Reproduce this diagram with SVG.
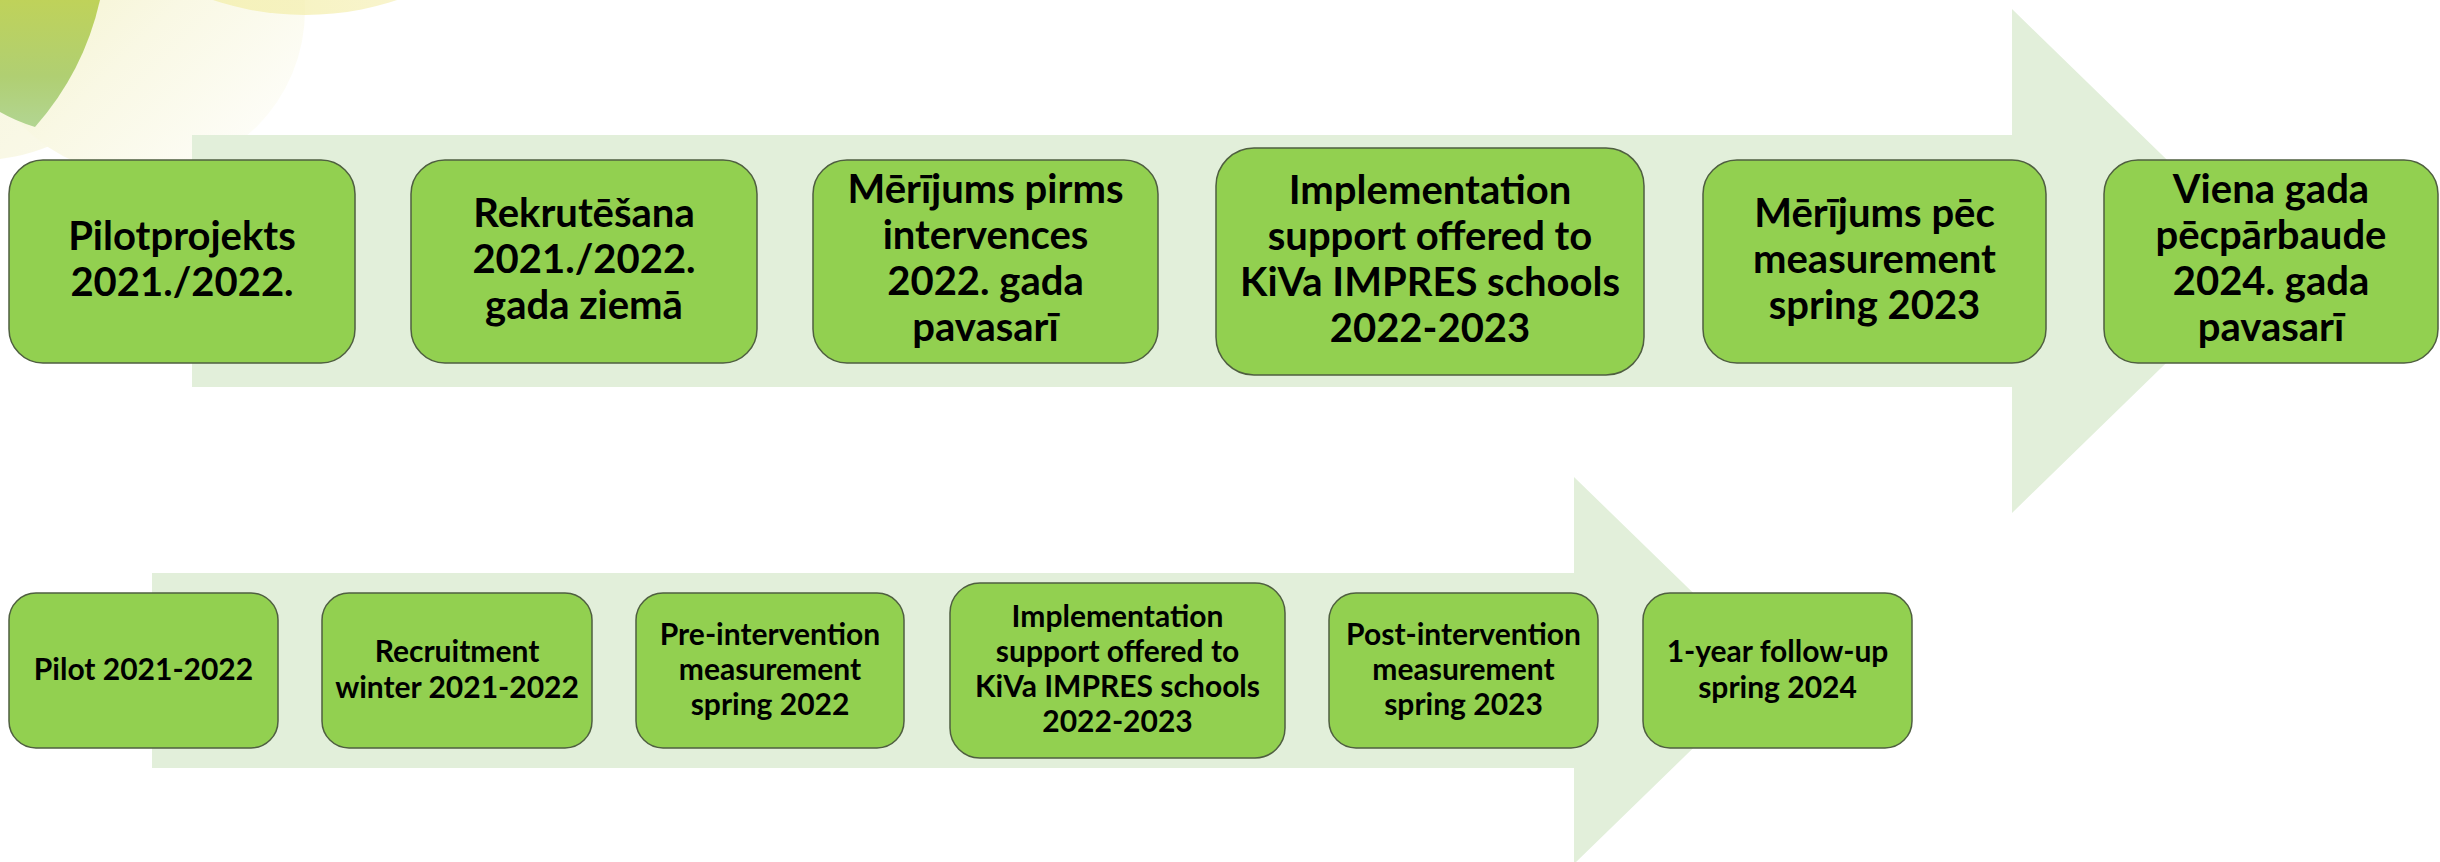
<svg xmlns="http://www.w3.org/2000/svg" width="2440" height="862" viewBox="0 0 2440 862">
<defs>
<linearGradient id="paleG" x1="0" y1="0" x2="1" y2="1">
<stop offset="0" stop-color="#f0eeb8"/>
<stop offset="0.55" stop-color="#f9f8e4"/>
<stop offset="1" stop-color="#ffffff"/>
</linearGradient>
<linearGradient id="leftG" x1="0" y1="0" x2="1" y2="1">
<stop offset="0" stop-color="#f2f1c8"/>
<stop offset="1" stop-color="#fbfaee"/>
</linearGradient>
<linearGradient id="greenG" x1="0" y1="0" x2="0" y2="1">
<stop offset="0" stop-color="#bfd25a"/>
<stop offset="0.6" stop-color="#b0cf72"/>
<stop offset="1" stop-color="#b2d592"/>
</linearGradient>
<linearGradient id="bandG" x1="0" y1="0" x2="1" y2="0">
<stop offset="0" stop-color="#f1eea0"/>
<stop offset="0.5" stop-color="#f4efb0"/>
<stop offset="1" stop-color="#fbf4d6"/>
</linearGradient>
<style>
.arrow{fill:#e2efda}
.node rect{fill:#92d050;stroke:#4f5f40;stroke-width:1.5}
.t1{font-family:Lato,"Liberation Sans",sans-serif;font-weight:700;font-size:40px;fill:#000;text-anchor:middle}
.t2{font-family:Lato,"Liberation Sans",sans-serif;font-weight:700;font-size:30px;fill:#000;text-anchor:middle}
</style>
</defs>
<rect width="2440" height="862" fill="#ffffff"/>
<g id="decoration">
<circle cx="-20" cy="-20" r="180" fill="url(#leftG)"/>
<circle cx="140" cy="10" r="165" fill="url(#paleG)"/>
<circle cx="305" cy="-275" r="290" fill="url(#bandG)" opacity="0.75"/>
<path d="M0,0 H100 A287,287 0 0 1 35,127 A170,170 0 0 1 0,112 Z" fill="url(#greenG)"/>
</g>
<g id="connectors">
<polygon class="arrow" points="192,135 2012,135 2012,9 2271,261 2012,513 2012,387 192,387"/>
<polygon class="arrow" points="152,573 1574,573 1574,477 1773,670.5 1574,864 1574,768 152,768"/>
</g>
<g id="n1" class="node"><rect x="9" y="160" width="346" height="203" rx="34"/>
<text class="t1" x="182" y="250">Pilotprojekts</text><text class="t1" x="182" y="296">2021./2022.</text></g>
<g id="n2" class="node"><rect x="411" y="160" width="346" height="203" rx="34"/>
<text class="t1" x="584" y="227">Rekrutēšana</text><text class="t1" x="584" y="273">2021./2022.</text><text class="t1" x="584" y="319">gada ziemā</text></g>
<g id="n3" class="node"><rect x="813" y="160" width="345" height="203" rx="34"/>
<text class="t1" x="985.5" y="203">Mērījums pirms</text><text class="t1" x="985.5" y="249">intervences</text><text class="t1" x="985.5" y="295">2022. gada</text><text class="t1" x="985.5" y="341">pavasarī</text></g>
<g id="n4" class="node"><rect x="1216" y="148" width="428" height="227" rx="38"/>
<text class="t1" x="1430" y="204">Implementation</text><text class="t1" x="1430" y="250">support offered to</text><text class="t1" x="1430" y="296">KiVa IMPRES schools</text><text class="t1" x="1430" y="342">2022-2023</text></g>
<g id="n5" class="node"><rect x="1703" y="160" width="343" height="203" rx="34"/>
<text class="t1" x="1874.5" y="227">Mērījums pēc</text><text class="t1" x="1874.5" y="273">measurement</text><text class="t1" x="1874.5" y="319">spring 2023</text></g>
<g id="n6" class="node"><rect x="2104" y="160" width="334" height="203" rx="34"/>
<text class="t1" x="2271" y="203">Viena gada</text><text class="t1" x="2271" y="249">pēcpārbaude</text><text class="t1" x="2271" y="295">2024. gada</text><text class="t1" x="2271" y="341">pavasarī</text></g>
<g id="b1" class="node"><rect x="9" y="593" width="269" height="155" rx="27"/>
<text class="t2" x="143.5" y="680">Pilot 2021-2022</text></g>
<g id="b2" class="node"><rect x="322" y="593" width="270" height="155" rx="27"/>
<text class="t2" x="457" y="662">Recruitment</text><text class="t2" x="457" y="698">winter 2021-2022</text></g>
<g id="b3" class="node"><rect x="636" y="593" width="268" height="155" rx="27"/>
<text class="t2" x="770" y="645">Pre-intervention</text><text class="t2" x="770" y="680">measurement</text><text class="t2" x="770" y="715">spring 2022</text></g>
<g id="b4" class="node"><rect x="950" y="583" width="335" height="175" rx="30"/>
<text class="t2" x="1117.5" y="627">Implementation</text><text class="t2" x="1117.5" y="662">support offered to</text><text class="t2" x="1117.5" y="697">KiVa IMPRES schools</text><text class="t2" x="1117.5" y="732">2022-2023</text></g>
<g id="b5" class="node"><rect x="1329" y="593" width="269" height="155" rx="27"/>
<text class="t2" x="1463.5" y="645">Post-intervention</text><text class="t2" x="1463.5" y="680">measurement</text><text class="t2" x="1463.5" y="715">spring 2023</text></g>
<g id="b6" class="node"><rect x="1643" y="593" width="269" height="155" rx="27"/>
<text class="t2" x="1777.5" y="662">1-year follow-up</text><text class="t2" x="1777.5" y="698">spring 2024</text></g>
</svg>
